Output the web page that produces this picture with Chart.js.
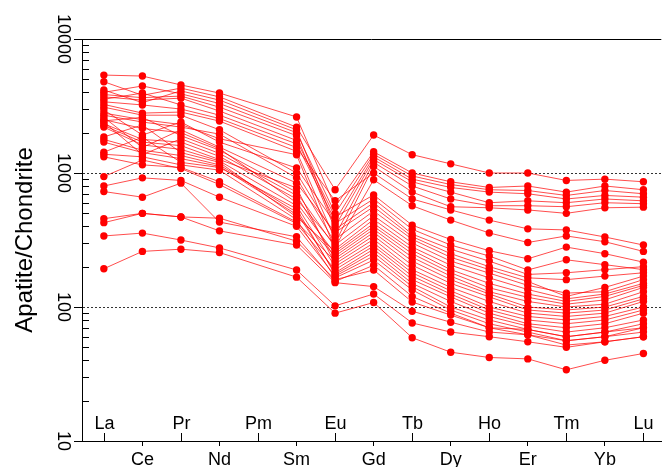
<!DOCTYPE html>
<html><head><meta charset="utf-8">
<script src="https://cdn.jsdelivr.net/npm/chart.js@4.4.1/dist/chart.umd.min.js"></script>
<style>html,body{margin:0;padding:0;background:#fff;}</style>
</head><body>
<canvas id="c" width="665" height="467"></canvas>
<script>
// Element order (Pm has no data)
const elements = ['La','Ce','Pr','Nd','Pm','Sm','Eu','Gd','Tb','Dy','Ho','Er','Tm','Yb','Lu'];
const yTickLabels = ['10','100','1000','10000'];
const yAxisTitle = 'Apatite/Chondrite';

// Chondrite-normalised apatite REE patterns (La..Lu, null = Pm)
const sample01 = [4800, 3800, 4300, 3700, null, 2200, 750, 1920, 1370, 1170, 1000, 1000, 880, 900, 860];
const sample02 = [5380, 5290, 4540, 3950, null, 2620, 560, 1440, 1000, 860, 780, 800, 720, 800, 750];
const sample03 = [4000, 4460, 3900, 3300, null, 2000, 500, 1380, 950, 820, 750, 740, 680, 740, 700];
const sample04 = [3550, 3950, 3220, 2700, null, 1650, 440, 1320, 900, 780, 720, 700, 640, 680, 660];
const sample05 = [4160, 3350, 4100, 3500, null, 2100, 400, 1260, 860, 720, 600, 620, 600, 640, 620];
const sample06 = [3100, 2700, 2700, 2100, null, 1000, 340, 1200, 800, 640, 570, 570, 560, 600, 590];
const sample07 = [2700, 2400, 2200, 1950, null, 920, 300, 1120, 720, 560, 550, 530, 500, 550, 556];
const sample08 = [3400, 3220, 3000, 2550, null, 1550, 620, 1000, 640, 530, 445, 383, 376, 333, 290];
const sample09 = [2450, 2600, 1900, 1480, null, 720, 280, 890, 570, 445, 357, 303, 339, 307, 260];
const sample10 = [3700, 3500, 3620, 2900, null, 1750, 470, 686, 408, 319, 263, 229, 280, 250, 216];
const sample11 = [2950, 1920, 2400, 1700, null, 1090, 420, 640, 380, 290, 240, 189, 225, 207, 190];
const sample12 = [3850, 3650, 3750, 3100, null, 1900, 380, 600, 350, 270, 220, 175, 180, 190, 200];
const sample13 = [2600, 1550, 2100, 1560, null, 840, 360, 560, 335, 250, 200, 165, 160, 170, 180];
const sample14 = [3250, 2800, 2850, 2440, null, 1450, 320, 520, 320, 235, 190, 155, 120, 140, 170];
const sample15 = [2330, 1780, 1700, 1330, null, 640, 290, 480, 300, 220, 179, 145, 127, 130, 160];
const sample16 = [2800, 2500, 2300, 1800, null, 1370, 270, 450, 280, 205, 165, 135, 115, 125, 150];
const sample17 = [1860, 2280, 1420, 1200, null, 470, 260, 420, 265, 190, 150, 125, 110, 120, 145];
const sample18 = [2500, 2150, 2000, 1520, null, 600, 250, 400, 250, 180, 139, 118, 105, 113, 140];
const sample19 = [1700, 1420, 1280, 1120, null, 490, 240, 380, 235, 170, 130, 110, 100, 105, 130];
const sample20 = [2400, 1370, 1800, 1400, null, 680, 230, 360, 220, 160, 125, 100, 95, 100, 120];
const sample21 = [1320, 1150, 1100, 860, null, 430, 220, 340, 205, 150, 119, 95, 90, 95, 115];
const sample22 = [2260, 1700, 1600, 1260, null, 774, 210, 320, 190, 140, 110, 90, 85, 90, 110];
const sample23 = [2200, 1620, 1500, 1230, null, 570, 200, 300, 180, 132, 100, 85, 80, 85, 100];
const sample24 = [940, 1250, 1080, 820, null, 420, 190, 285, 170, 125, 95, 80, 75, 80, 95];
const sample25 = [1780, 1480, 1350, 1150, null, 510, 180, 270, 160, 119, 90, 75, 70, 75, 90];
const sample26 = [1430, 1850, 1200, 1100, null, 540, 175, 255, 150, 110, 85, 72, 65, 70, 80];
const sample27 = [800, 920, 880, 660, null, 400, 170, 240, 142, 100, 80, 68, 60, 65, 75];
const sample28 = [1380, 1320, 1150, 1050, null, 450, 165, 224, 134, 95, 75, 65, 56, 60, 70];
const sample29 = [727, 660, 840, 430, null, 334, 155, 205, 120, 90, 70, 62, 52, 55, 60];
const sample30 = [193, 260, 270, 255, null, 167, 90, 108, 59, 46, 42, 41, 34, 40, 45];
const sample31 = [339, 356, 316, 276, null, 189, 102, 125, 76, 65, 60, 55, 50, 55, 60];
const sample32 = [426, 500, 470, 370, null, 290, 152, 142, 93, 77, 65, 62, 56, 60, 65];
const sample33 = [456, 500, 470, 460, null, 310, 160, 189, 109, 87, 70, 68, 60, 65, 70];

const samples = [sample01, sample02, sample03, sample04, sample05, sample06, sample07, sample08,
  sample09, sample10, sample11, sample12, sample13, sample14, sample15, sample16, sample17,
  sample18, sample19, sample20, sample21, sample22, sample23, sample24, sample25, sample26,
  sample27, sample28, sample29, sample30, sample31, sample32, sample33];

const FONT = "'Liberation Sans', Arial, sans-serif";
const isPow10 = v => { const l = Math.log10(v); return Math.abs(l - Math.round(l)) < 1e-9; };

const decor = {
  id: 'decor',
  afterDraw(chart) {
    const {ctx, chartArea: a, scales: {x, y}} = chart;
    ctx.save();
    ctx.strokeStyle = '#000';
    ctx.lineWidth = 1;
    ctx.setLineDash([]);
    // top frame line
    ctx.beginPath(); ctx.moveTo(a.left, a.top + 0.5); ctx.lineTo(a.right, a.top + 0.5); ctx.stroke();
    // minor log ticks, pointing inward
    y.ticks.forEach(t => {
      if (!isPow10(t.value)) {
        const py = Math.round(y.getPixelForValue(t.value)) + 0.5;
        ctx.beginPath(); ctx.moveTo(a.left, py); ctx.lineTo(a.left + 7, py); ctx.stroke();
      }
    });
    // alternate element labels drawn inside the plot, with inward ticks
    ctx.fillStyle = '#000';
    ctx.font = '18px ' + FONT;
    ctx.textAlign = 'center';
    ctx.textBaseline = 'middle';
    elements.forEach((el, i) => {
      if (i % 2 === 0) {
        const px = Math.round(x.getPixelForValue(i + 1)) + 0.5;
        ctx.beginPath(); ctx.moveTo(px, a.bottom); ctx.lineTo(px, a.bottom - 8); ctx.stroke();
        ctx.fillText(el, px, a.bottom - 17);
      }
    });
    ctx.restore();
  }
};

new Chart(document.getElementById('c'), {
  type: 'line',
  data: {
    datasets: samples.map(s => ({
      data: s.map((v, i) => ({x: i + 1, y: v})),
      borderColor: 'rgba(255,0,0,0.7)',
      borderWidth: 1,
      pointRadius: 3.7,
      pointHoverRadius: 3.7,
      pointBackgroundColor: 'rgb(255,0,0)',
      pointBorderWidth: 0,
      spanGaps: true,
      tension: 0
    }))
  },
  options: {
    responsive: false,
    animation: false,
    devicePixelRatio: 1,
    layout: {padding: {top: 39, right: 0, bottom: 0, left: 0}},
    plugins: {legend: {display: false}, tooltip: {enabled: false}},
    events: [],
    scales: {
      x: {
        type: 'linear',
        min: 0.4328,
        max: 15.464,
        afterBuildTicks: s => { s.ticks = elements.map((e, i) => ({value: i + 1})); },
        ticks: {
          autoSkip: false, minRotation: 0, maxRotation: 0, padding: 3, color: '#000',
          font: {family: FONT, size: 18},
          callback: v => (v % 2 === 0 ? elements[v - 1] : '')
        },
        grid: {
          drawOnChartArea: false, drawTicks: true, tickLength: 5,
          tickColor: c => (c.tick && c.tick.value % 2 === 0) ? '#000' : 'rgba(0,0,0,0)'
        },
        border: {display: true, color: '#000', width: 1},
        afterFit: s => { s.height = 26; }
      },
      y: {
        type: 'logarithmic',
        min: 10,
        max: 10000,
        afterBuildTicks: s => {
          const t = [];
          for (let e = 1; e < 4; e++) for (let m = 1; m < 10; m++) t.push({value: m * Math.pow(10, e)});
          t.push({value: 10000});
          s.ticks = t;
        },
        ticks: {
          autoSkip: false, minRotation: -90, maxRotation: -90, crossAlign: 'center', padding: -13.5,
          color: '#000', font: {family: FONT, size: 18},
          callback: v => (yTickLabels.includes(String(v)) ? String(v) : '')
        },
        grid: {
          drawOnChartArea: true, tickLength: 8, lineWidth: 1,
          borderDash: [2, 2],
          color: c => (c.tick && (c.tick.value === 100 || c.tick.value === 1000)) ? '#333' : 'rgba(0,0,0,0)',
          tickColor: c => (c.tick && isPow10(c.tick.value)) ? '#000' : 'rgba(0,0,0,0)'
        },
        border: {display: true, color: '#000', width: 1, dash: [2, 2]},
        title: {
          display: true, text: yAxisTitle, color: '#000',
          font: {family: FONT, size: 24}, padding: {top: 10.6, bottom: 0}
        },
        afterFit: s => { s.width = 82; }
      }
    }
  },
  plugins: [decor]
});
</script>
</body></html>
